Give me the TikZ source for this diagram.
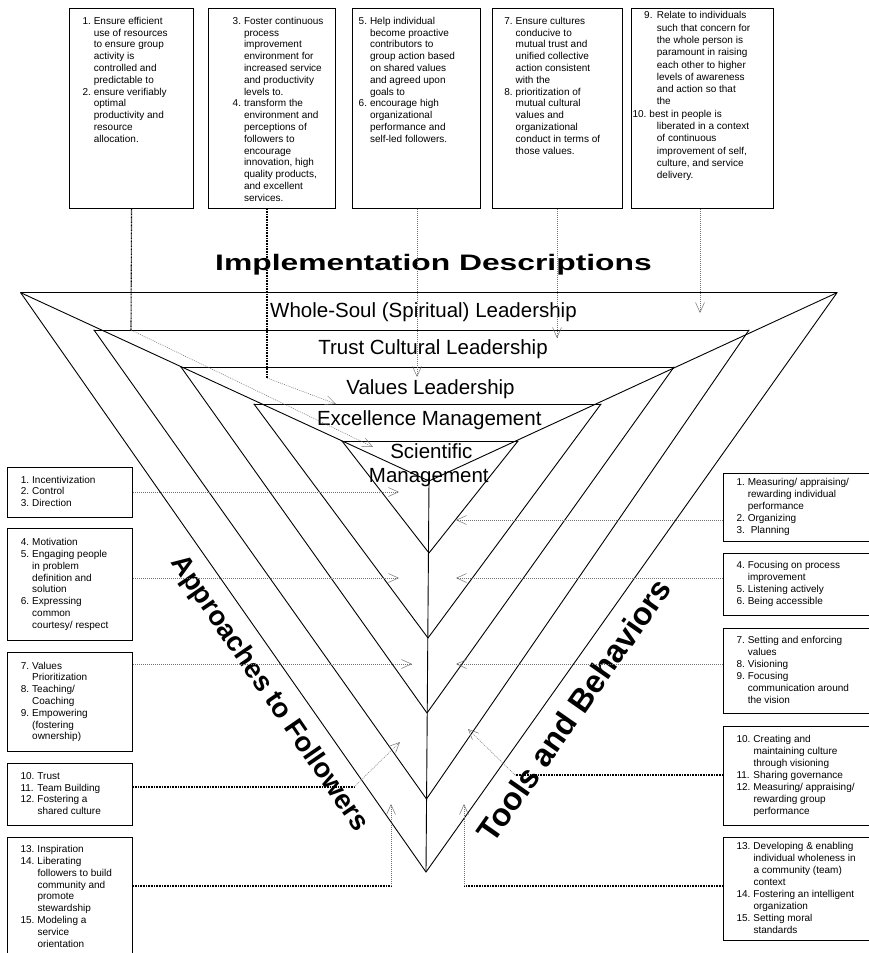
\documentclass[tikz,border=0pt]{standalone}
\usepackage{fontspec}
\setmainfont{Liberation Sans}
\usepackage{graphicx}
\usetikzlibrary{arrows.meta,calc}
\newcommand\lA[1]{\makebox[11.3pt][l]{#1}}
\newcommand\lB[1]{\makebox[17pt][l]{#1}}
\newcommand\iA{\hspace*{11.3pt}}
\newcommand\iB{\hspace*{17pt}}
\newcommand\iC{\hspace*{24.4pt}}
\tikzset{
  boxnode/.style={draw, line width=1.1pt, inner sep=0pt, anchor=north west},
  boxtext/.style={inner sep=0pt, font=\fontsize{10}{11.8}\selectfont},
  band/.style={anchor=base, inner sep=0pt, font=\fontsize{20.5}{24}\selectfont},
  vline/.style={line width=0.9pt, line cap=round, line join=round},
  faint/.style={draw=black!55, line width=0.5pt, dash pattern=on 1pt off 1pt},
  heavy/.style={draw=black, line width=1.1pt, dash pattern=on 1pt off 0.6pt},
  tipr/.style={-{Straight Barb[length=10pt,width=9pt,line width=0.5pt]}},
}
\begin{document}
\begin{tikzpicture}[x=1pt,y=-1pt]
\useasboundingbox (0,0) rectangle (868,953);

% ---------- funnel geometry ----------
\coordinate (L0) at (20.7,292.7); \coordinate (R0) at (837,292.7); \coordinate (A0) at (426,872);
\coordinate (L1) at (94,330);     \coordinate (R1) at (749,330);   \coordinate (A1) at (426.5,799);
\coordinate (L2) at (181,367);    \coordinate (R2) at (674,367);   \coordinate (A2) at (427,713);
\coordinate (L3) at (254,404);    \coordinate (R3) at (601,404);   \coordinate (A3) at (428,638);
\coordinate (L4) at (342,441);    \coordinate (R4) at (518,441);   \coordinate (A4) at (429,553);
\coordinate (F) at (429,481);

\foreach \k in {0,...,4}{
  \draw[vline] (L\k) -- (R\k);
  \draw[vline] (L\k) -- (A\k) -- (R\k);
}
\draw[vline] (L0) -- (F) -- (R0);
\draw[vline] (F) -- (A0);

% ---------- titles ----------
\node[anchor=base, inner sep=0pt] (title) at (433.5,270.7)
  {\scalebox{1.42}[1]{\fontsize{22.4}{26}\selectfont\bfseries Implementation Descriptions}};
\node[band] (b1) at (423.5,317.3) {Whole-Soul (Spiritual) Leadership};
\node[band] (b2) at (433,354.5) {Trust Cultural Leadership};
\node[band] (b3) at (430.5,394.3) {Values Leadership};
\node[band] (b4) at (429.3,425) {Excellence Management};
\node[band] (b5a) at (431.3,458.3) {Scientific};
\node[band] (b5b) at (428.8,482.7) {Management};

\node[rotate=-55.5, inner sep=0pt, font=\fontsize{27.5}{30}\selectfont\bfseries] (appr) at (269,694) {Approaches to Followers};
\node[rotate=55, inner sep=0pt, font=\fontsize{32}{35}\selectfont\bfseries] (tools) at (574,710) {Tools and Behaviors};

% ---------- top boxes ----------
\node[boxnode, minimum width=124pt, minimum height=200pt] (T1) at (69,8) {};
\node[boxnode, minimum width=127pt, minimum height=200pt] (T2) at (208,8) {};
\node[boxnode, minimum width=128pt, minimum height=200pt] (T3) at (352,8) {};
\node[boxnode, minimum width=130pt, minimum height=200pt] (T4) at (492,8) {};
\node[boxnode, minimum width=142pt, minimum height=200pt] (T5) at (631,8) {};

\node[boxtext, anchor=base west] (t1x) at (82.3,24.3) {\begin{tabular}[t]{@{}l@{}}
\lA{1.}Ensure efficient\\
\iA use of resources\\
\iA to ensure group\\
\iA activity is\\
\iA controlled and\\
\iA predictable to\\
\lA{2.}ensure verifiably\\
\iA optimal\\
\iA productivity and\\
\iA resource\\
\iA allocation.
\end{tabular}};

\node[boxtext, anchor=base west] (t2x) at (232.5,24.3) {\begin{tabular}[t]{@{}l@{}}
\lA{3.}Foster continuous\\
\iA process\\
\iA improvement\\
\iA environment for\\
\iA increased service\\
\iA and productivity\\
\iA levels to.\\
\lA{4.}transform the\\
\iA environment and\\
\iA perceptions of\\
\iA followers to\\
\iA encourage\\
\iA innovation, high\\
\iA quality products,\\
\iA and excellent\\
\iA services.
\end{tabular}};

\node[boxtext, anchor=base west] (t3x) at (358.5,24.3) {\begin{tabular}[t]{@{}l@{}}
\lA{5.}Help individual\\
\iA become proactive\\
\iA contributors to\\
\iA group action based\\
\iA on shared values\\
\iA and agreed upon\\
\iA goals to\\
\lA{6.}encourage high\\
\iA organizational\\
\iA performance and\\
\iA self-led followers.
\end{tabular}};

\node[boxtext, anchor=base west] (t4x) at (504.2,24.3) {\begin{tabular}[t]{@{}l@{}}
\lA{7.}Ensure cultures\\
\iA conducive to\\
\iA mutual trust and\\
\iA unified collective\\
\iA action consistent\\
\iA with the\\
\lA{8.}prioritization of\\
\iA mutual cultural\\
\iA values and\\
\iA organizational\\
\iA conduct in terms of\\
\iA those values.
\end{tabular}};

\node[boxtext, font=\fontsize{10}{12.3}\selectfont, anchor=base west] (t5x) at (632.3,18.8) {\begin{tabular}[t]{@{}l@{}}
\hspace*{11.7pt}\makebox[12.7pt][l]{9.}Relate to individuals\\
\iC such that concern for\\
\iC the whole person is\\
\iC paramount in raising\\
\iC each other to higher\\
\iC levels of awareness\\
\iC and action so that\\
\iC the\\
\lB{10.}best in people is\\
\iC liberated in a context\\
\iC of continuous\\
\iC improvement of self,\\
\iC culture, and service\\
\iC delivery.
\end{tabular}};

% ---------- left boxes ----------
\node[boxnode, minimum width=125pt, minimum height=50pt] (LB1) at (7,467) {};
\node[boxnode, minimum width=125pt, minimum height=112pt] (LB2) at (7,528) {};
\node[boxnode, minimum width=125pt, minimum height=99pt] (LB3) at (7,652) {};
\node[boxnode, minimum width=125pt, minimum height=62pt] (LB4) at (7,763) {};
\node[boxnode, minimum width=125pt, minimum height=125pt] (LB5) at (7,837) {};

\node[boxtext, anchor=west] (l1x) at ($(LB1.west)+(13.7,0)$) {\begin{tabular}{@{}l@{}}
\lA{1.}Incentivization\\ \lA{2.}Control\\ \lA{3.}Direction
\end{tabular}};
\node[boxtext, anchor=west] (l2x) at ($(LB2.west)+(13.7,0)$) {\begin{tabular}{@{}l@{}}
\lA{4.}Motivation\\ \lA{5.}Engaging people\\ \iA in problem\\ \iA definition and\\ \iA solution\\
\lA{6.}Expressing\\ \iA common\\ \iA courtesy/ respect
\end{tabular}};
\node[boxtext, anchor=west] (l3x) at ($(LB3.west)+(13.7,0)$) {\begin{tabular}{@{}l@{}}
\lA{7.}Values\\ \iA Prioritization\\ \lA{8.}Teaching/\\ \iA Coaching\\ \lA{9.}Empowering\\ \iA (fostering\\ \iA ownership)
\end{tabular}};
\node[boxtext, anchor=west] (l4x) at ($(LB4.west)+(13.3,0)$) {\begin{tabular}{@{}l@{}}
\lB{10.}Trust\\ \lB{11.}Team Building\\ \lB{12.}Fostering a\\ \iB shared culture
\end{tabular}};
\node[boxtext, anchor=base west] (l5x) at (20.3,852.6) {\begin{tabular}[t]{@{}l@{}}
\lB{13.}Inspiration\\ \lB{14.}Liberating\\ \iB followers to build\\ \iB community and\\ \iB promote\\ \iB stewardship\\
\lB{15.}Modeling a\\ \iB service\\ \iB orientation
\end{tabular}};

% ---------- right boxes ----------
\node[boxnode, minimum width=150pt, minimum height=68pt] (RB1) at (723,473) {};
\node[boxnode, minimum width=150pt, minimum height=62pt] (RB2) at (723,553) {};
\node[boxnode, minimum width=150pt, minimum height=85pt] (RB3) at (723,628) {};
\node[boxnode, minimum width=150pt, minimum height=99pt] (RB4) at (723,726) {};
\node[boxnode, minimum width=150pt, minimum height=103pt] (RB5) at (723,837) {};

\node[boxtext, font=\fontsize{10}{12}\selectfont, anchor=west] (r1x) at ($(RB1.west)+(13.3,0)$) {\begin{tabular}{@{}l@{}}
\lA{1.}Measuring/ appraising/\\ \iA rewarding individual\\ \iA performance\\ \lA{2.}Organizing\\ \lA{3.}\hspace*{3pt}Planning
\end{tabular}};
\node[boxtext, font=\fontsize{10}{12}\selectfont, anchor=west] (r2x) at ($(RB2.west)+(13.3,0)$) {\begin{tabular}{@{}l@{}}
\lA{4.}Focusing on process\\ \iA improvement\\ \lA{5.}Listening actively\\ \lA{6.}Being accessible
\end{tabular}};
\node[boxtext, font=\fontsize{10}{12}\selectfont, anchor=west] (r3x) at ($(RB3.west)+(13.3,0)$) {\begin{tabular}{@{}l@{}}
\lA{7.}Setting and enforcing\\ \iA values\\ \lA{8.}Visioning\\ \lA{9.}Focusing\\ \iA communication around\\ \iA the vision
\end{tabular}};
\node[boxtext, font=\fontsize{10}{12}\selectfont, anchor=west] (r4x) at ($(RB4.west)+(13.3,0)$) {\begin{tabular}{@{}l@{}}
\lB{10.}Creating and\\ \iB maintaining culture\\ \iB through visioning\\ \lB{11.}Sharing governance\\
\lB{12.}Measuring/ appraising/\\ \iB rewarding group\\ \iB performance
\end{tabular}};
\node[boxtext, font=\fontsize{10}{12}\selectfont, anchor=west] (r5x) at ($(RB5.west)+(13.3,0)$) {\begin{tabular}{@{}l@{}}
\lB{13.}Developing \& enabling\\ \iB individual wholeness in\\ \iB a community (team)\\ \iB context\\
\lB{14.}Fostering an intelligent\\ \iB organization\\ \lB{15.}Setting moral\\ \iB standards
\end{tabular}};

% ---------- connectors ----------
\coordinate (t1bend) at (131,330); \coordinate (t1tip) at (373,447);
\coordinate (t2bend) at (267,378); \coordinate (t2tip) at (336,404);
\coordinate (t3tip) at (417,377);
\coordinate (t4tip) at (557,338);
\coordinate (t5tip) at (700,313);
\draw[heavy] (T1.south) -- (t1bend);
\draw[faint, tipr] (t1bend) -- (t1tip);
\draw[heavy] (t2bend |- T2.south) -- (t2bend);
\draw[faint, tipr] (t2bend) -- (t2tip);
\draw[faint, tipr] (t3tip |- T3.south) -- (t3tip);
\draw[faint, tipr] (t4tip |- T4.south) -- (t4tip);
\draw[faint, tipr] (t5tip |- T5.south) -- (t5tip);

\coordinate (l1tip) at (399,492);
\coordinate (l2tip) at (399,578);
\coordinate (l3tip) at (412,664);
\coordinate (l4bend) at (354,787); \coordinate (l4tip) at (400,742);
\coordinate (l5bend) at (391,886); \coordinate (l5tip) at (391,804);
\draw[faint, tipr] (l1tip -| LB1.east) -- (l1tip);
\draw[faint, tipr] (l2tip -| LB2.east) -- (l2tip);
\draw[faint, tipr] (l3tip -| LB3.east) -- (l3tip);
\draw[heavy] (l4bend -| LB4.east) -- (l4bend);
\draw[faint, tipr] (l4bend) -- (l4tip);
\draw[heavy] (l5bend -| LB5.east) -- (l5bend);
\draw[faint, tipr] (l5bend) -- (l5tip);

\coordinate (r1tip) at (456,520);
\coordinate (r2tip) at (456,578);
\coordinate (r3tip) at (456,664);
\coordinate (r4bend) at (515,775); \coordinate (r4tip) at (468,729);
\coordinate (r5bend) at (464,886); \coordinate (r5tip) at (464,804);
\draw[faint, tipr] (r1tip -| RB1.west) -- (r1tip);
\draw[faint, tipr] (r2tip -| RB2.west) -- (r2tip);
\draw[faint, tipr] (r3tip -| RB3.west) -- (r3tip);
\draw[heavy] (r4bend -| RB4.west) -- (r4bend);
\draw[faint, tipr] (r4bend) -- (r4tip);
\draw[heavy] (r5bend -| RB5.west) -- (r5bend);
\draw[faint, tipr] (r5bend) -- (r5tip);
\end{tikzpicture}
\end{document}
